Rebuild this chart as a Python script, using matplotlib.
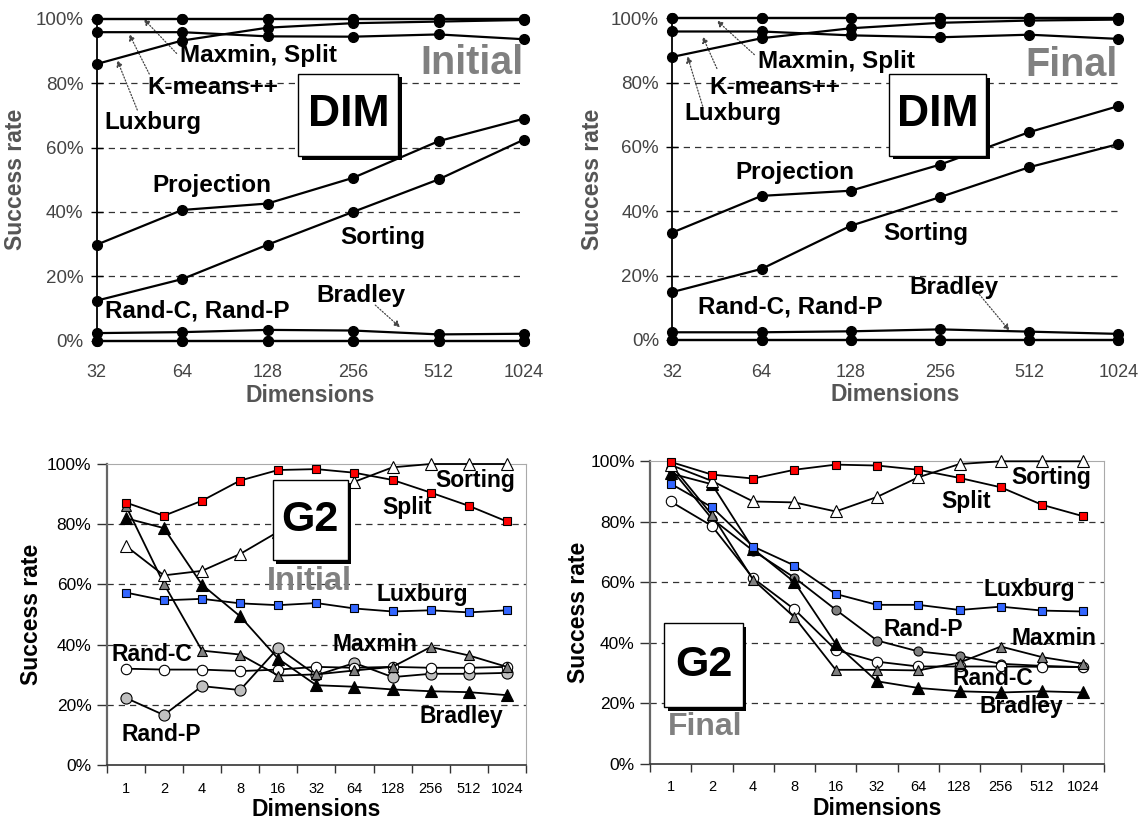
import matplotlib
matplotlib.use("Agg")
import matplotlib.pyplot as plt
from matplotlib.patches import Rectangle
from matplotlib import transforms

plt.rcParams['font.family'] = ['Liberation Sans', 'DejaVu Sans']

# ---- data ----
dims_top = ['32', '64', '128', '256', '512', '1024']
dims_bot = ['1', '2', '4', '8', '16', '32', '64', '128', '256', '512', '1024']

# DIM, initial
dimi_maxmin = [100, 100, 100, 100, 100, 100]
dimi_split = [100, 100, 100, 100, 100, 100]
dimi_kmeans = [95.9, 95.9, 94.6, 94.5, 95.2, 93.7]
dimi_luxburg = [86.0, 93.3, 97.3, 98.7, 99.2, 99.7]
dimi_projection = [29.8, 40.6, 42.6, 50.6, 62.0, 69.0]
dimi_sorting = [12.4, 19.1, 29.8, 40.0, 50.1, 62.5]
dimi_bradley = [2.3, 2.6, 3.3, 3.1, 1.9, 2.1]
dimi_randc = [0, 0, 0, 0, 0, 0]
dimi_randp = [0, 0, 0, 0, 0, 0]

# DIM, final
dimf_maxmin = [100, 100, 100, 100, 100, 100]
dimf_split = [100, 100, 100, 100, 100, 100]
dimf_kmeans = [95.9, 95.9, 94.7, 94.1, 94.9, 93.6]
dimf_luxburg = [88.0, 93.8, 96.9, 98.6, 99.3, 99.6]
dimf_projection = [33.4, 44.8, 46.4, 54.5, 64.6, 72.7]
dimf_sorting = [14.9, 22.1, 35.5, 44.4, 53.7, 60.9]
dimf_bradley = [2.4, 2.4, 2.7, 3.3, 2.6, 1.9]
dimf_randc = [0, 0, 0, 0, 0, 0]
dimf_randp = [0, 0, 0, 0, 0, 0]

# G2, initial
g2i_split = [87.2, 82.8, 87.8, 94.5, 98.0, 98.3, 97.1, 94.7, 90.5, 86.1, 80.9]
g2i_sorting = [72.8, 63.0, 64.5, 70.1, 77.5, 86.0, 94.1, 98.9, 100, 100, 100]
g2i_luxburg = [57.3, 54.7, 55.2, 53.7, 53.1, 53.8, 52.0, 51.0, 51.4, 50.7, 51.4]
g2i_bradley = [82.0, 78.7, 59.9, 49.4, 35.3, 26.5, 26.0, 25.1, 24.5, 24.2, 23.2]
g2i_maxmin = [86.2, 60.2, 38.0, 36.7, 29.7, 30.1, 31.4, 32.6, 39.2, 36.4, 32.6]
g2i_randc = [32.0, 31.7, 31.7, 31.2, 31.7, 32.6, 32.3, 32.6, 32.3, 32.3, 32.6]
g2i_randp = [22.3, 16.6, 26.2, 24.9, 38.9, 29.8, 33.9, 29.2, 30.3, 30.3, 30.6]

# G2, final
g2f_split = [99.8, 95.6, 94.3, 97.2, 98.9, 98.6, 97.2, 94.5, 91.4, 85.6, 81.8]
g2f_sorting = [98.8, 93.5, 86.7, 86.4, 83.4, 88.2, 94.7, 99.1, 100, 100, 100]
g2f_luxburg = [92.6, 84.8, 71.8, 65.5, 56.1, 52.5, 52.5, 50.8, 51.9, 50.6, 50.3]
g2f_randp = [97.7, 81.0, 70.4, 61.5, 50.9, 40.7, 37.1, 35.6, 33.0, 32.3, 31.9]
g2f_randc = [86.7, 78.6, 61.3, 51.0, 37.6, 33.7, 32.1, 32.1, 32.1, 32.0, 31.9]
g2f_maxmin = [99.0, 82.3, 60.8, 48.4, 31.0, 31.0, 30.8, 33.4, 38.7, 35.2, 33.0]
g2f_bradley = [96.0, 92.4, 71.0, 60.0, 39.6, 27.2, 25.0, 23.9, 23.5, 23.9, 23.5]

yticks = [0, 20, 40, 60, 80, 100]
ylabels = ['0%', '20%', '40%', '60%', '80%', '100%']

W, H = 1147, 819
fig = plt.figure(figsize=(W / 100, H / 100), dpi=100)


def px_axes(l, r, t, b):
    return fig.add_axes([l / W, (H - b) / H, (r - l) / W, (b - t) / H])


def dashed_grid(ax, color):
    ax.set_yticks(yticks)
    ax.yaxis.grid(True, linestyle=(0, (5, 4)), color=color, lw=0.9)
    gl = ax.get_ygridlines()
    gl[0].set_visible(False)
    gl[-1].set_visible(False)
    ax.set_axisbelow(True)


def boxed_label(ax, x0, x1, y0, y1, txt, size):
    shadow = transforms.offset_copy(ax.transData, fig=fig, x=3.5, y=-3.5, units='dots')
    ax.add_patch(Rectangle((x0, y0), x1 - x0, y1 - y0, transform=shadow,
                           facecolor='black', edgecolor='black', lw=0, zorder=6, clip_on=False))
    ax.add_patch(Rectangle((x0, y0), x1 - x0, y1 - y0, facecolor='white',
                           edgecolor='black', lw=1.0, zorder=7, clip_on=False))
    ax.text((x0 + x1) / 2, (y0 + y1) / 2, txt, ha='center', va='center',
            fontsize=size, fontweight='bold', zorder=8)


def arrow(ax, tail, head):
    ax.annotate('', xy=head, xytext=tail,
                arrowprops=dict(arrowstyle='-|>', linestyle=(0, (1, 1.5)), color='#444444',
                                lw=0.9, mutation_scale=9, shrinkA=0, shrinkB=0))


def dim_panel(ax, series, texts, arrows, tag, box):
    x = list(range(len(dims_top)))
    for s in series:
        ax.plot(x, s, '-o', color='black', lw=1.6, ms=7, clip_on=False, zorder=4)
    ax.set_xlim(0, 5)
    ax.set_ylim(0, 100)
    dashed_grid(ax, '#333333')
    ax.set_yticklabels(ylabels)
    ax.set_xticks(x)
    ax.set_xticklabels(dims_top)
    for sp in ['top', 'right', 'bottom']:
        ax.spines[sp].set_visible(False)
    ax.spines['left'].set_linewidth(1.3)
    ax.tick_params(axis='y', direction='inout', length=9, width=1.0, pad=5,
                   labelsize=13.5, labelcolor='#444444')
    ax.tick_params(axis='x', length=0, pad=17, labelsize=13, labelcolor='#444444')
    ax.set_ylabel('Success rate', fontsize=16.5, fontweight='bold', color='#555555')
    ax.set_xlabel('Dimensions', fontsize=16.5, fontweight='bold', color='#555555', va='top')
    for (tx, ty, t) in texts:
        ax.text(tx, ty, t, ha='left', va='center', fontsize=17.5, fontweight='bold', zorder=5)
    for tail, head in arrows:
        arrow(ax, tail, head)
    ax.text(4.99, tag[1], tag[0], ha='right', va='center', fontsize=28.5,
            fontweight='bold', color='#808080', zorder=5)
    boxed_label(ax, box[0], box[1], box[2], box[3], 'DIM', 32)


def g2_panel(ax):
    ax.set_xlim(-0.5, 10.5)
    ax.set_ylim(0, 100)
    dashed_grid(ax, '#333333')
    ax.set_yticklabels(ylabels)
    ax.set_xticks(range(len(dims_bot)))
    ax.set_xticklabels(dims_bot)
    ax.set_xticks([i - 0.5 for i in range(len(dims_bot) + 1)], minor=True)
    ax.tick_params(axis='x', which='major', length=0, pad=12, labelsize=10.5)
    ax.tick_params(axis='x', which='minor', direction='out', length=6, width=1.0, color='#333333')
    ax.tick_params(axis='y', direction='out', length=7, width=1.0, color='#333333',
                   pad=4, labelsize=12.5)
    ax.spines['left'].set_color('#666666')
    ax.spines['left'].set_linewidth(1.6)
    ax.spines['bottom'].set_color('#333333')
    ax.spines['bottom'].set_linewidth(1.2)
    ax.spines['top'].set_color('#aaaaaa')
    ax.spines['right'].set_color('#aaaaaa')
    ax.set_ylabel('Success rate', fontsize=16.5, fontweight='bold')
    ax.set_xlabel('Dimensions', fontsize=16.5, fontweight='bold', va='top')


def g2_lines(ax, split, sorting, luxburg, bradley, maxmin, randc, randp, randp_color, randp_ms):
    x = list(range(len(dims_bot)))
    kw = dict(color='black', lw=1.3, mec='black', mew=0.8, clip_on=False)
    ax.plot(x, randp, '-o', mfc=randp_color, ms=randp_ms, zorder=3, **kw)
    ax.plot(x, randc, '-o', mfc='white', ms=7.5, zorder=3, **kw)
    ax.plot(x, maxmin, '-^', mfc='#808080', ms=6.5, zorder=3, **kw)
    ax.plot(x, bradley, '-^', mfc='black', ms=8, zorder=3, **kw)
    ax.plot(x, luxburg, '-s', mfc='#3366ff', ms=6, zorder=3, **kw)
    ax.plot(x, sorting, '-^', mfc='white', ms=8.5, zorder=3, **kw)
    ax.plot(x, split, '-s', mfc='#ff0000', ms=6, zorder=3, **kw)


def g2_texts(ax, texts):
    for (tx, ty, t) in texts:
        ax.text(tx, ty, t, ha='left', va='center', fontsize=16.5, fontweight='bold', zorder=5)


# ---- top left: DIM initial ----
ax1 = px_axes(96.7, 524, 19, 340.5)
dim_panel(ax1,
          [dimi_randc, dimi_randp, dimi_bradley, dimi_sorting, dimi_projection,
           dimi_luxburg, dimi_kmeans, dimi_maxmin, dimi_split],
          [(0.98, 88.8, 'Maxmin, Split'), (0.59, 78.8, 'K-means++'), (0.09, 67.9, 'Luxburg'),
           (0.65, 48.3, 'Projection'), (2.85, 32.0, 'Sorting'), (2.57, 13.9, 'Bradley'),
           (0.10, 9.1, 'Rand-C, Rand-P')],
          [((0.935, 89.3), (0.55, 100)), ((0.615, 82.9), (0.38, 95.3)),
           ((0.475, 71.7), (0.24, 87.2)), ((3.26, 11.0), (3.55, 4.1))],
          ('Initial', 86.3), (2.36, 3.53, 57.3, 83.0))
ax1.yaxis.set_label_coords(-0.163, 0.5)
ax1.xaxis.set_label_coords(0.5, -0.135)

# ---- top right: DIM final ----
ax2 = px_axes(672.3, 1118.3, 18.3, 340)
dim_panel(ax2,
          [dimf_randc, dimf_randp, dimf_bradley, dimf_sorting, dimf_projection,
           dimf_luxburg, dimf_kmeans, dimf_maxmin, dimf_split],
          [(0.96, 86.6, 'Maxmin, Split'), (0.42, 78.5, 'K-means++'), (0.13, 70.5, 'Luxburg'),
           (0.71, 52.0, 'Projection'), (2.36, 33.1, 'Sorting'), (2.66, 16.4, 'Bradley'),
           (0.29, 10.3, 'Rand-C, Rand-P')],
          [((0.92, 88.7), (0.50, 99.3)), ((0.50, 84.4), (0.34, 94.3)),
           ((0.34, 72.7), (0.17, 88.2)), ((3.42, 14.9), (3.78, 2.9))],
          ('Final', 85.4), (2.43, 3.52, 57.3, 82.6))
ax2.yaxis.set_label_coords(-0.153, 0.5)
ax2.xaxis.set_label_coords(0.5, -0.135)

# ---- bottom left: G2 initial ----
ax3 = px_axes(106.7, 526, 464, 765)
g2_panel(ax3)
g2_lines(ax3, g2i_split, g2i_sorting, g2i_luxburg, g2i_bradley, g2i_maxmin,
         g2i_randc, g2i_randp, '#c0c0c0', 8)
g2_texts(ax3, [(8.12, 94.5, 'Sorting'), (6.73, 85.4, 'Split'), (6.58, 56.5, 'Luxburg'),
               (5.43, 40.1, 'Maxmin'), (-0.37, 36.6, 'Rand-C'), (7.71, 16.1, 'Bradley'),
               (-0.12, 10.0, 'Rand-P')])
boxed_label(ax3, 3.85, 5.82, 68.1, 94.7, 'G2', 31)
ax3.text(4.81, 60.9, 'Initial', ha='center', va='center', fontsize=23.5,
         fontweight='bold', color='#808080', zorder=5)
ax3.yaxis.set_label_coords(-0.152, 0.5)
ax3.xaxis.set_label_coords(0.5, -0.11)

# ---- bottom right: G2 final ----
ax4 = px_axes(650, 1104, 461.3, 763.5)
g2_panel(ax4)
g2_lines(ax4, g2f_split, g2f_sorting, g2f_luxburg, g2f_bradley, g2f_maxmin,
         g2f_randc, g2f_randp, '#808080', 6.5)
g2_texts(ax4, [(8.26, 94.8, 'Sorting'), (6.57, 86.7, 'Split'), (7.58, 57.5, 'Luxburg'),
               (5.16, 44.2, 'Rand-P'), (8.26, 41.4, 'Maxmin'), (6.84, 28.2, 'Rand-C'),
               (7.48, 18.8, 'Bradley')])
boxed_label(ax4, -0.16, 1.75, 18.6, 46.4, 'G2', 31)
ax4.text(0.83, 12.2, 'Final', ha='center', va='center', fontsize=23,
         fontweight='bold', color='#808080', zorder=5)
ax4.yaxis.set_label_coords(-0.132, 0.5)
ax4.xaxis.set_label_coords(0.5, -0.111)

fig.savefig('out.png', dpi=100)
